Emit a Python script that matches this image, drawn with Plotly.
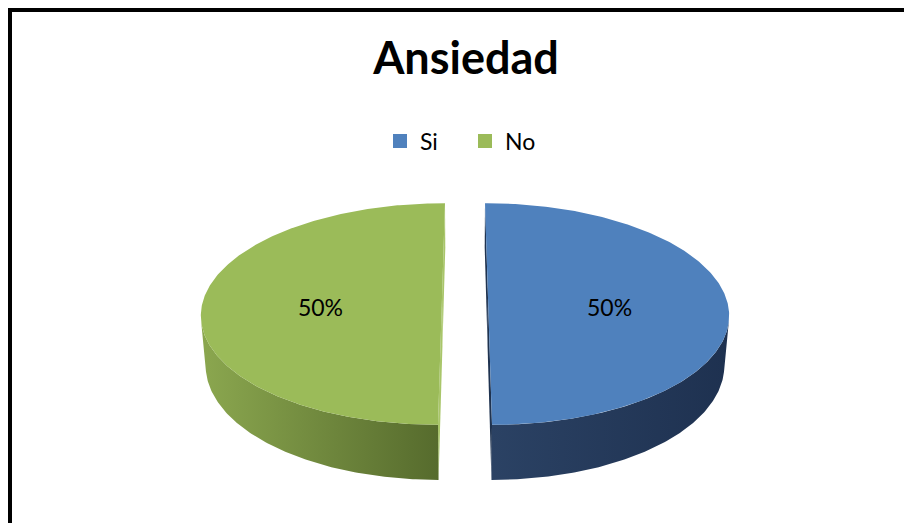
import numpy as np
import plotly.graph_objects as go

# ---------------- data ----------------
title_text = "Ansiedad"
categories = ["Si", "No"]
values = [50, 50]

# ---------------- style ----------------
top_colors = ["#4F81BD", "#9BBB59"]
side_grad = [["#2B4264", "#1E3150"], ["#8BA74F", "#566B2D"]]   # left -> right
cut_colors = ["#1F3350", "#A9C66A"]
FONT = "Lato"

PAGE_OFF = 8                     # default body margin of the html page
W, H = 912 - 2 * PAGE_OFF, 531 - 2 * PAGE_OFF

# 3-D pie camera geometry (screen pixels / pie-radius units)
cx, cy = 465.0, 297.5      # projection of the pie axis (screen px)
F = 1422.0                 # focal length (px)
L = 5.976                  # camera distance (radius units)
alpha = np.deg2rad(27.1)   # elevation of the camera
thick = 0.2366             # pie thickness (radius units)
explode = 0.0966           # explosion (radius units)
label_frac = 0.5
label_depth = 0.12

ca, sa = np.cos(alpha), np.sin(alpha)


def px(sx):
    return (sx - PAGE_OFF) / W


def py(sy):
    return 1 - (sy - PAGE_OFF) / H


def proj(X, Y, z):
    X = np.asarray(X, float)
    Y = np.asarray(Y, float)
    z = np.asarray(z, float)
    d = L - Y * ca + thick * z * sa
    return cx + F * X / d, cy + F * (Y * sa + thick * z * ca) / d


total = float(sum(values))
cum = np.concatenate([[0], np.cumsum(values)]) / total * 2 * np.pi

fig = go.Figure()
cut_traces, side_traces, top_traces, labels = [], [], [], []

for i, cat in enumerate(categories):
    p0, p1 = cum[i], cum[i + 1]
    pm = 0.5 * (p0 + p1)
    X0, Y0 = explode * np.sin(pm), -explode * np.cos(pm)
    phi = np.linspace(p0, p1, 300)
    Xs, Ys = X0 + np.sin(phi), Y0 - np.cos(phi)

    # cut faces
    for p in (p0, p1):
        XX = [X0, X0 + np.sin(p), X0 + np.sin(p), X0]
        YY = [Y0, Y0 - np.cos(p), Y0 - np.cos(p), Y0]
        xs, ys = proj(XX, YY, [0, 0, 1, 1])
        cut_traces.append(go.Scatter(x=list(xs) + [xs[0]], y=list(ys) + [ys[0]],
                                     fill="toself", fillcolor=cut_colors[i],
                                     mode="lines", line=dict(width=0),
                                     hoverinfo="skip", showlegend=False))

    # outer wall: part facing the camera
    facing = np.sin(phi) * (-Xs) + (-np.cos(phi)) * (L * ca - Ys) > 0
    if facing.any():
        Xv, Yv = Xs[facing], Ys[facing]
        xt, yt = proj(Xv, Yv, np.zeros_like(Xv))
        xb, yb = proj(Xv[::-1], Yv[::-1], np.ones_like(Xv))
        xs = np.concatenate([xt, xb, xt[:1]])
        ys = np.concatenate([yt, yb, yt[:1]])
        side_traces.append(go.Scatter(
            x=xs, y=ys, fill="toself", mode="lines", line=dict(width=0),
            fillgradient=dict(type="horizontal",
                              colorscale=[[0, side_grad[i][0]], [1, side_grad[i][1]]]),
            hoverinfo="skip", showlegend=False))

    # top face
    xs, ys = proj(np.concatenate([[X0], Xs, [X0]]),
                  np.concatenate([[Y0], Ys, [Y0]]), np.zeros(len(Xs) + 2))
    top_traces.append(go.Scatter(x=xs, y=ys, fill="toself", fillcolor=top_colors[i],
                                 mode="lines", line=dict(width=0),
                                 hoverinfo="skip", showlegend=False))

    lx, ly = proj([X0 + label_frac * np.sin(pm)],
                  [Y0 - label_frac * np.cos(pm) + label_depth], [0])
    labels.append((lx[0], ly[0], f"{values[i] / total * 100:.0f}%"))

for tr in cut_traces + side_traces + top_traces:
    fig.add_trace(tr)

fig.add_trace(go.Scatter(x=[l[0] for l in labels], y=[l[1] for l in labels],
                         text=[l[2] for l in labels], mode="text",
                         textfont=dict(family=FONT, size=23, color="black"),
                         hoverinfo="skip", showlegend=False))

# legend entries
for i, cat in enumerate(categories):
    fig.add_trace(go.Scatter(x=[None], y=[None], mode="markers", name=cat,
                             marker=dict(symbol="square", size=14, color=top_colors[i])))

fig.update_layout(
    width=W, height=H,
    margin=dict(l=0, r=0, t=0, b=0),
    paper_bgcolor="white", plot_bgcolor="white",
    xaxis=dict(range=[PAGE_OFF, PAGE_OFF + W], visible=False, fixedrange=True),
    yaxis=dict(range=[PAGE_OFF + H, PAGE_OFF], visible=False, fixedrange=True),
    title=dict(text="<b>" + title_text + "</b>", x=px(466), xanchor="center",
               y=py(58), yanchor="middle",
               font=dict(family=FONT, size=45, color="black")),
    legend=dict(orientation="h", x=px(465), xanchor="center",
                y=py(141), yanchor="middle",
                font=dict(family=FONT, size=23, color="black"),
                itemwidth=30, entrywidth=40, entrywidthmode="pixels",
                bgcolor="rgba(0,0,0,0)"),
    shapes=[dict(type="rect", xref="paper", yref="paper",
                 x0=px(10), y0=py(10), x1=1.1, y1=-0.1,
                 line=dict(color="black", width=4), layer="above")],
)

fig.write_html("out.html")
